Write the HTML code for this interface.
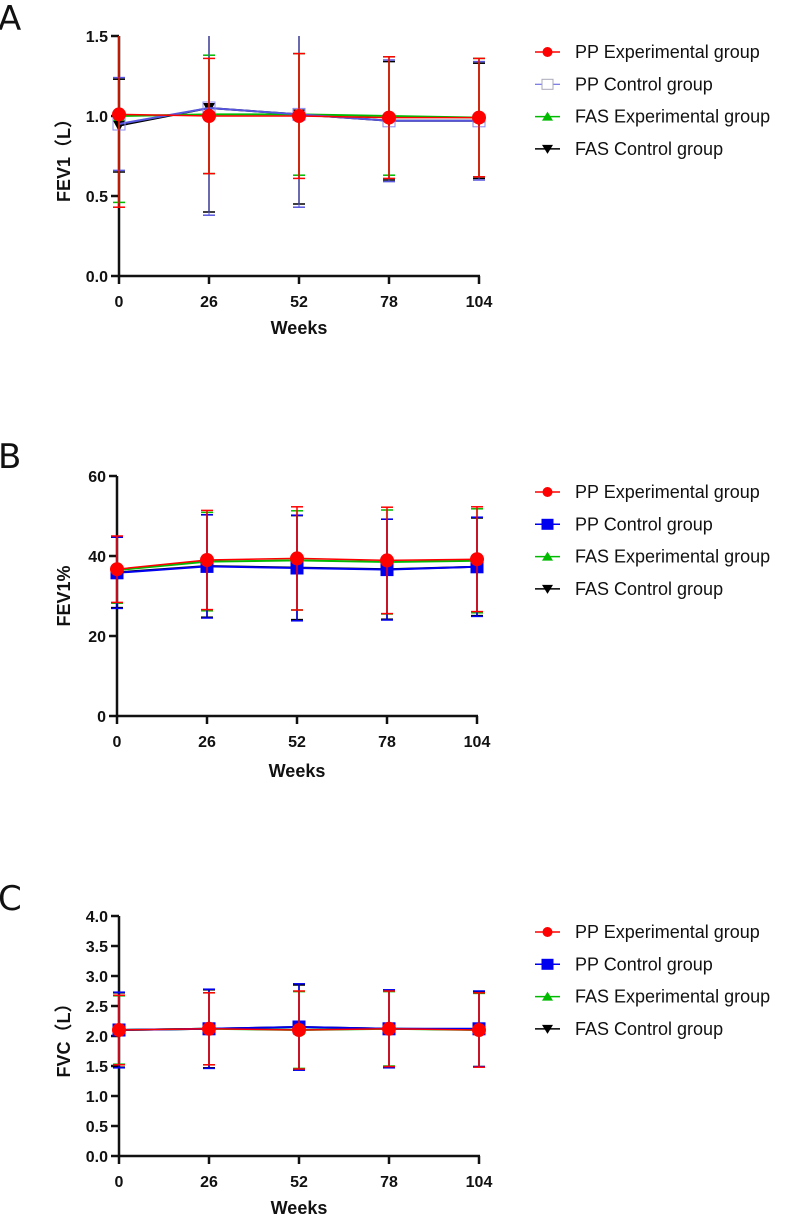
<!DOCTYPE html>
<html><head><meta charset="utf-8"><style>
body{margin:0;background:#fff;}
svg{display:block;font-family:"Liberation Sans",Arial,"Noto Sans CJK SC",sans-serif;}
.tick{font-size:16px;font-weight:bold;fill:#111;}
.title{font-size:18px;font-weight:bold;fill:#111;}
.leg{font-size:18px;fill:#111;}
.letter{font-size:34px;fill:#111;font-family:"DejaVu Sans",sans-serif;}
</style></head><body>
<svg id="fig" width="798" height="1218" viewBox="0 0 798 1218"></svg>
<script>
const weeks=[0,26,52,78,104];
const seriesNames=["PP  Experimental group","PP  Control group","FAS  Experimental group","FAS  Control group"];
// Panel A FEV1 (L)
const aPPexp=[1.01,1.00,1.00,0.99,0.99], aPPexpSd=[0.58,0.36,0.39,0.38,0.37];
const aPPctl=[0.95,1.05,1.01,0.97,0.97], aPPctlSd=[0.29,0.67,0.58,0.38,0.37];
const aFASexp=[1.00,1.01,1.01,1.00,0.99], aFASexpSd=[0.54,0.37,0.38,0.37,0.37];
const aFASctl=[0.94,1.05,1.01,0.97,0.97], aFASctlSd=[0.29,0.65,0.56,0.37,0.36];
const aTicks=["0.0","0.5","1.0","1.5"];
// Panel B FEV1%
const bPPexp=[36.7,39.0,39.4,38.9,39.2], bPPexpSd=[8.3,12.4,12.9,13.3,13.1];
const bPPctl=[35.8,37.4,37.0,36.6,37.3], bPPctlSd=[8.9,12.9,13.2,12.6,12.4];
const bFASexp=[36.5,38.6,38.9,38.5,38.8], bFASexpSd=[8.3,12.3,12.4,13.0,13.0];
const bFASctl=[35.9,37.5,37.1,36.7,37.3], bFASctlSd=[8.8,12.8,13.0,12.5,12.2];
const bTicks=["0","20","40","60"];
// Panel C FVC (L)
const cPPexp=[2.10,2.12,2.10,2.12,2.10], cPPexpSd=[0.58,0.60,0.65,0.63,0.62];
const cPPctl=[2.10,2.12,2.15,2.12,2.12], cPPctlSd=[0.63,0.66,0.72,0.65,0.63];
const cFASexp=[2.10,2.12,2.10,2.12,2.10], cFASexpSd=[0.57,0.60,0.64,0.62,0.61];
const cFASctl=[2.10,2.12,2.15,2.12,2.11], cFASctlSd=[0.62,0.65,0.70,0.64,0.62];
const cTicks=["0.0","0.5","1.0","1.5","2.0","2.5","3.0","3.5","4.0"];

const NS="http://www.w3.org/2000/svg";
const svg=document.getElementById('fig');
function mk(tag,attrs,parent,text){const e=document.createElementNS(NS,tag);for(const k in attrs)e.setAttribute(k,attrs[k]);if(text!==undefined)e.textContent=text;(parent||svg).appendChild(e);return e;}
const colors=["#ff0000","#0000ee","#00bb00","#000000"];
function marker(g,kind,x,y,col,open){
  let e;
  if(kind===0)e=mk('circle',{cx:x,cy:y,r:7,fill:col},g);
  else if(kind===1)e=mk('rect',{x:x-6,y:y-6,width:12,height:12,fill:open?'none':col,stroke:open?'#8888ee':col,'stroke-width':1},g);
  else if(kind===2)e=mk('path',{d:`M${x-6},${y+5}L${x+6},${y+5}L${x},${y-6}Z`,fill:col},g);
  else e=mk('path',{d:`M${x-6},${y-5}L${x+6},${y-5}L${x},${y+6}Z`,fill:col},g);
  return e;
}
function panel(p){
  const g=mk('g',{});
  
  
  const xS=w=>p.x0+(p.x1-p.x0)*w/104;
  const yS=v=>p.yb-(p.yb-p.yt)*v/p.max;
  const L=mk('text',{x:-2,y:p.ly,class:'letter'},g,p.letter);
  
  
  p.ticks.forEach(t=>{const v=parseFloat(t);const y=yS(v);
    mk('line',{x1:p.x0-8,x2:p.x0,y1:y,y2:y,stroke:'#111','stroke-width':2.5},g);
    const tl=mk('text',{x:p.x0-11,y:y+6,class:'tick','text-anchor':'end'},g,t);
    
    });
  weeks.forEach(w=>{const x=xS(w);
    mk('line',{x1:x,x2:x,y1:p.yb,y2:p.yb+8,stroke:'#111','stroke-width':2.5},g);
    const tl=mk('text',{x:x,y:p.yb+31,class:'tick','text-anchor':'middle'},g,String(w));
    
    });
  const yt=mk('text',{x:0,y:0,class:'title','text-anchor':'middle',transform:`translate(${p.tx},${(p.yb+p.yt)/2}) rotate(-90)`},g,p.ytitle);
  
  
  const xt=mk('text',{x:(p.x0+p.x1)/2,y:p.wy,class:'title','text-anchor':'middle'},g,'Weeks');
  
  
  mk('line',{x1:p.x0,x2:p.x0,y1:p.yt,y2:p.yb,stroke:'#111','stroke-width':2.5},g);
  mk('line',{x1:p.x0-1,x2:p.x1+1,y1:p.yb,y2:p.yb,stroke:'#111','stroke-width':2.5},g);
  [3,2,1,0].forEach(si=>{
    const m=p.means[si],sd=p.sds[si],col=colors[si];
    const sg=mk('g',{},g);
    
    
    const lw=(si===1&&p.openBlue)?1:1.5;
    const lcol=(si===1&&p.openBlue)?'#5555dd':col;
    m.forEach((v,i)=>{const x=xS(weeks[i]);
      const hi=Math.min(v+sd[i],p.max),lo=Math.max(v-sd[i],0);
      mk('line',{x1:x,x2:x,y1:yS(lo),y2:yS(hi),stroke:lcol,'stroke-width':lw},sg);
      [lo,hi].forEach(e=>{if(e===p.max)return;mk('line',{x1:x-6,x2:x+6,y1:yS(e),y2:yS(e),stroke:lcol,'stroke-width':1.5},sg);});
    });
    mk('polyline',{points:m.map((v,i)=>xS(weeks[i])+','+yS(v)).join(' '),fill:'none',stroke:lcol,'stroke-width':si===0?1.5:2},sg);
    m.forEach((v,i)=>{const mm=marker(sg,si,xS(weeks[i]),yS(v),col,si===1&&p.openBlue);
      
      });
  });
  seriesNames.forEach((n,i)=>{const y=p.legY+i*32.3;
    const lg=mk('g',{},g);
    
    
    const open=i===1&&p.openBlue;
    mk('line',{x1:535,x2:560,y1:y,y2:y,stroke:open?'#5555dd':colors[i],'stroke-width':open?1:1.5},lg);
    if(i===0)mk('circle',{cx:547.5,cy:y,r:5,fill:colors[0]},lg);
    else if(i===1)mk('rect',{x:542,y:y-5,width:11,height:10,fill:open?'#fff':colors[1],stroke:open?'#aab':colors[1],'stroke-width':1},lg);
    else if(i===2)mk('path',{d:`M${542},${y+4}L${553},${y+4}L${547.5},${y-5}Z`,fill:colors[2]},lg);
    else mk('path',{d:`M${542},${y-4}L${553},${y-4}L${547.5},${y+5}Z`,fill:colors[3]},lg);
    mk('text',{x:575,y:y+6,class:'leg'},lg,n);
  });
}
panel({id:'fev1',letter:'A',ly:30,x0:119,x1:479,yt:36,yb:276,max:1.5,ticks:aTicks,ytitle:'FEV1（L）',tx:70,wy:334,legY:52,openBlue:true,
  means:[aPPexp,aPPctl,aFASexp,aFASctl],sds:[aPPexpSd,aPPctlSd,aFASexpSd,aFASctlSd]});
panel({id:'fev1pct',letter:'B',ly:468,x0:117,x1:477,yt:476,yb:716,max:60,ticks:bTicks,ytitle:'FEV1%',tx:70,wy:777,legY:492,openBlue:false,
  means:[bPPexp,bPPctl,bFASexp,bFASctl],sds:[bPPexpSd,bPPctlSd,bFASexpSd,bFASctlSd]});
panel({id:'fvc',letter:'C',ly:910,x0:119,x1:479,yt:916,yb:1156,max:4,ticks:cTicks,ytitle:'FVC（L）',tx:70,wy:1214,legY:932,openBlue:false,
  means:[cPPexp,cPPctl,cFASexp,cFASctl],sds:[cPPexpSd,cPPctlSd,cFASexpSd,cFASctlSd]});
</script>
</body></html>
